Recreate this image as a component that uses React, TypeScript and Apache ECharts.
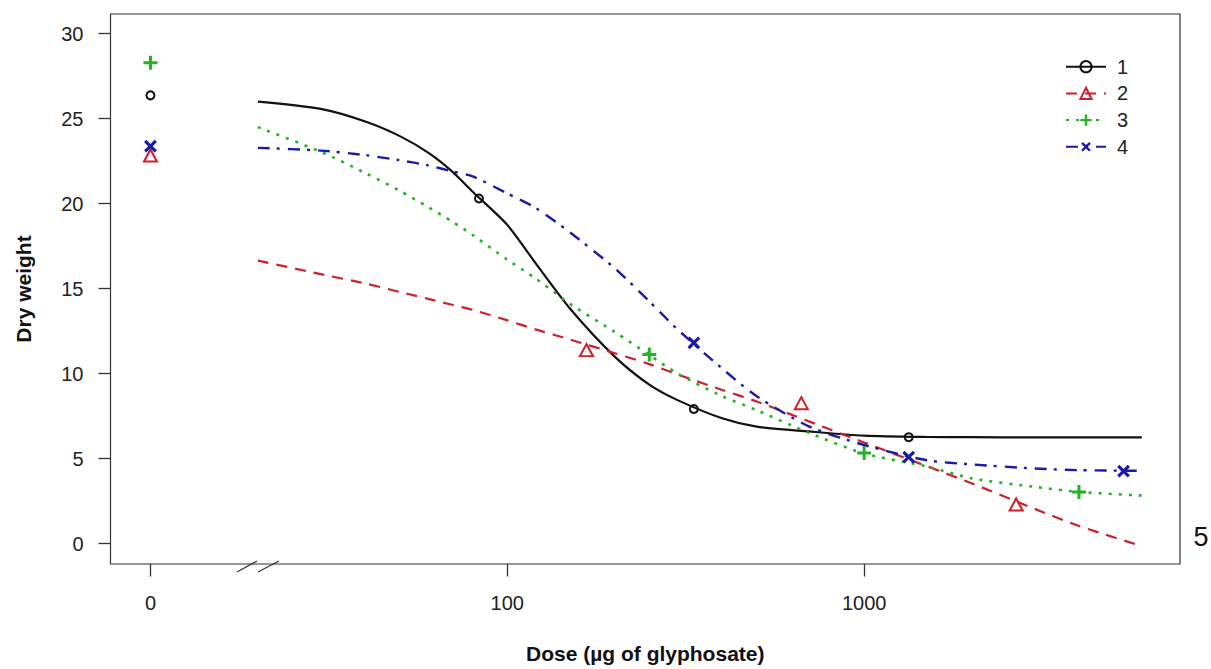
import React, { useEffect, useRef } from 'react';
import * as echarts from 'echarts';

// ---- data ----
const groupNames = ['1', '2', '3', '4'];

// doses at which the fitted curves were read
const curveDoses = [20, 30, 40, 50, 60, 70, 80, 100, 120, 150, 200, 250, 300, 400, 500, 700, 1000, 1500, 2000, 3000, 4000, 6000];
const curve1 = [26.0, 25.57, 24.83, 23.97, 23.0, 21.9, 20.7, 18.75, 16.5, 13.82, 11.0, 9.35, 8.44, 7.37, 6.88, 6.6, 6.35, 6.27, 6.26, 6.25, 6.25, 6.25];
const curve2 = [16.65, 15.85, 15.3, 14.8, 14.4, 14.05, 13.75, 13.13, 12.6, 12.0, 11.2, 10.56, 9.95, 9.04, 8.36, 7.19, 5.95, 4.55, 3.55, 2.05, 1.04, -0.15];
const curve3 = [24.5, 23.05, 21.8, 20.75, 19.8, 18.95, 18.15, 16.7, 15.6, 14.1, 12.45, 11.1, 10.0, 8.67, 7.85, 6.52, 5.3, 4.54, 3.84, 3.34, 3.04, 2.83];
const curve4 = [23.28, 23.12, 22.85, 22.55, 22.25, 21.9, 21.6, 20.6, 19.75, 18.3, 16.2, 14.25, 12.6, 10.3, 8.67, 6.9, 5.8, 4.9, 4.66, 4.42, 4.32, 4.28];

// observed means
const pointDoses1 = [0, 83.3, 333.3, 1333.3];
const pointValues1 = [26.37, 20.3, 7.92, 6.26];
const pointDoses2 = [0, 166.7, 666.7, 2666.7];
const pointValues2 = [22.83, 11.38, 8.26, 2.3];
const pointDoses3 = [0, 250, 1000, 4000];
const pointValues3 = [28.28, 11.12, 5.33, 3.03];
const pointDoses4 = [0, 333.3, 1333.3, 5333.3];
const pointValues4 = [23.38, 11.81, 5.09, 4.26];

const xTickDoses = [0, 100, 1000];
const yTicks = [0, 5, 10, 15, 20, 25, 30];
const zeroDosePosition = 10; // dose 0 is drawn at this break point of the log axis

const xTitle = 'Dose (µg of glyphosate)';
const yTitle = 'Dry weight';
const cornerText = '5';

// ---- styles ----
const FONT = '"Liberation Sans", Arial, sans-serif';
const plusPath = 'path://M5.5,0h3v5.5h5.5v3h-5.5v5.5h-3v-5.5h-5.5v-3h5.5z';

const styles = [
  { color: '#111111', fill: 'rgba(0,0,0,0)', symbol: 'circle', size: 8, rotate: 0, dash: 'solid' as any, width: 2.2, border: 2 },
  { color: '#CF1F2A', fill: 'rgba(0,0,0,0)', symbol: 'triangle', size: [13, 12], rotate: 0, dash: [11, 8], width: 2.2, border: 2 },
  { color: '#22B422', fill: '#22B422', symbol: plusPath, size: 14, rotate: 0, dash: [3, 7], width: 2.6, border: 0 },
  { color: '#1A1AAA', fill: '#1A1AAA', symbol: plusPath, size: 15, rotate: 45, dash: [12, 7, 3, 8], width: 2.4, border: 0 },
];

const curves = [curve1, curve2, curve3, curve4];
const pointDoses = [pointDoses1, pointDoses2, pointDoses3, pointDoses4];
const pointValues = [pointValues1, pointValues2, pointValues3, pointValues4];

const toAxis = (d: number) => (d === 0 ? zeroDosePosition : d);

export default function App() {
  const ref = useRef<HTMLDivElement>(null);

  useEffect(() => {
    if (!ref.current) return;
    const chart = echarts.init(ref.current, undefined, { renderer: 'svg' });

    const series: any[] = [];
    groupNames.forEach((name, i) => {
      const s = styles[i];
      series.push({
        name,
        type: 'line',
        data: curveDoses.map((d, j) => [d, curves[i][j]]),
        showSymbol: false,
        symbol: s.symbol,
        symbolRotate: s.rotate,
        smooth: 0.25,
        lineStyle: { color: s.color, width: s.width, type: s.dash },
        itemStyle: { color: s.fill, borderColor: s.color, borderWidth: s.border },
        silent: true,
        z: 2 + i,
      });
    });
    groupNames.forEach((name, i) => {
      const s = styles[i];
      series.push({
        name: name + ' observed',
        type: 'scatter',
        data: pointDoses[i].map((d, j) => [toAxis(d), pointValues[i][j]]),
        symbol: s.symbol,
        symbolSize: s.size,
        symbolRotate: s.rotate,
        itemStyle: { color: s.fill, borderColor: s.color, borderWidth: s.border, opacity: 1 },
        silent: true,
        z: 10 + i,
      });
    });

    const xVals = xTickDoses.map(toAxis);

    chart.setOption({
      animation: false,
      backgroundColor: '#ffffff',
      textStyle: { fontFamily: FONT },
      grid: {
        left: 110.5,
        top: 14,
        width: 1069.5,
        height: 552.5,
        show: true,
        borderColor: '#333',
        borderWidth: 1.2,
        backgroundColor: 'transparent',
      },
      legend: {
        data: groupNames,
        orient: 'vertical',
        left: 1060,
        top: 51.7,
        itemWidth: 40,
        itemHeight: 14,
        itemGap: 6.7,
        selectedMode: false,
        textStyle: { fontSize: 20, lineHeight: 20, color: '#222', fontFamily: FONT, padding: [0, 0, 0, 6] },
      },
      xAxis: {
        type: 'log',
        logBase: 10,
        min: 7.727,
        max: 7677,
        axisLine: { show: false, onZero: false },
        axisTick: { show: true, length: 12.5, lineStyle: { color: '#333', width: 1.3 }, customValues: xVals },
        axisLabel: {
          customValues: xVals,
          margin: 29,
          fontSize: 20,
          color: '#222',
          fontFamily: FONT,
          formatter: (v: number) => {
            const r = Math.round(v);
            const idx = xVals.indexOf(r);
            return idx >= 0 ? String(xTickDoses[idx]) : '';
          },
        },
        splitLine: { show: false },
        name: xTitle,
        nameLocation: 'middle',
        nameGap: 79,
        nameTextStyle: { fontWeight: 'bold', fontSize: 21, color: '#111', fontFamily: FONT },
      },
      yAxis: {
        type: 'value',
        min: -1.2,
        max: 31.154,
        axisLine: { show: false, onZero: false },
        axisTick: { show: true, length: 12, lineStyle: { color: '#333', width: 1.3 }, customValues: yTicks },
        axisLabel: { customValues: yTicks, margin: 27, fontSize: 20, color: '#222', fontFamily: FONT },
        splitLine: { show: false },
        name: yTitle,
        nameLocation: 'middle',
        nameRotate: 90,
        nameGap: 77,
        nameTextStyle: { fontWeight: 'bold', fontSize: 21, color: '#111', fontFamily: FONT },
      },
      graphic: [
        { type: 'line', shape: { x1: 237, y1: 572, x2: 257, y2: 561 }, style: { stroke: '#333', lineWidth: 1.2 }, z: 20 },
        { type: 'line', shape: { x1: 258, y1: 572, x2: 279, y2: 561 }, style: { stroke: '#333', lineWidth: 1.2 }, z: 20 },
        {
          type: 'text',
          x: 1201,
          y: 537,
          style: { text: cornerText, fontSize: 27, fill: '#111', fontFamily: FONT, align: 'center', verticalAlign: 'middle' },
          z: 20,
        },
      ],
      series,
    });

    return () => chart.dispose();
  }, []);

  return <div ref={ref} style={{ position: 'absolute', left: 0, top: 0, width: 1211, height: 669 }} />;
}
